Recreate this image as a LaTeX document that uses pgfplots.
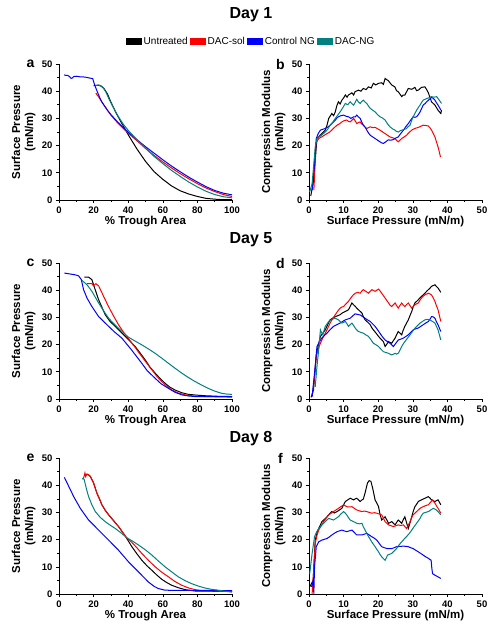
\documentclass[border=0pt]{standalone}
\usepackage{fontspec}
\setmainfont{Liberation Sans}
\usepackage{pgfplots}
\pgfplotsset{compat=1.18}
\definecolor{cblack}{RGB}{0,0,0}
\definecolor{cred}{RGB}{255,0,0}
\definecolor{cblue}{RGB}{0,0,255}
\definecolor{cteal}{RGB}{0,128,128}
\pgfplotsset{
 panel/.style={scale only axis, width=173pt, height=136pt, clip mode=individual,
  axis x line*=bottom, axis y line*=left, tick align=outside,
  ymin=0, ymax=50, ytick={0,10,...,50}, minor tick num=1,
  major tick length=3pt, minor tick length=1.8pt,
  axis line style={line width=0.8pt},
  every tick/.style={black, line width=0.6pt},
  tick label style={font=\fontsize{9.5}{11}\selectfont\bfseries},
  /pgf/number format/assume math mode=true,
  label style={font=\fontsize{11.5}{13}\selectfont\bfseries},
  ylabel style={at={(axis description cs:-0.205,0.5)}, anchor=center, align=center},
  xlabel style={at={(axis description cs:0.5,-0.16)}, anchor=center},
  every axis plot/.append style={line width=1pt}},
 iso/.style={panel, xmin=0, xmax=100, xtick={0,20,...,100},
  ylabel={Surface Pressure\\(mN/m)}, xlabel={\% Trough Area}},
 cm/.style={panel, xmin=0, xmax=50, xtick={0,10,...,50},
  ylabel={Compression Modulus\\(mN/m)}, xlabel={Surface Pressure (mN/m)}},
}
\newcommand{\plabel}[1]{\node[font=\fontsize{14}{16}\selectfont\bfseries] at (axis description cs:-0.165,1.0) {#1};}
\begin{document}
\begin{tikzpicture}
\path[use as bounding box] (0,0) rectangle (497pt,632pt);
\node[font=\fontsize{16}{18}\selectfont\bfseries] at (251pt,617pt) {Day 1};
\node[font=\fontsize{16}{18}\selectfont\bfseries] at (251pt,392pt) {Day 5};
\node[font=\fontsize{16}{18}\selectfont\bfseries] at (251pt,193pt) {Day 8};

% ---------- panel a ----------
\begin{axis}[iso, at={(59pt,432pt)}, anchor=south west,
  legend style={at={(axis description cs:1.11,1.162)}, anchor=center, draw=none, fill=none,
   legend columns=4, font=\fontsize{10}{12}\selectfont,
   /tikz/every even column/.append style={column sep=0pt}},
  legend image code/.code={\fill[#1] (0pt,-3pt) rectangle (15pt,3pt);}]
\addplot[color=cblack] coordinates {(20,42)(22,42.2)(24,42)(26,41)(28,39)(30,36)(33,32)(36,28.5)(40,24)(45,18.8)(50,14.2)(55,10.4)(60,7.6)(65,5.2)(70,3.4)(75,2.2)(80,1.3)(85,0.6)(90,0.3)(95,0.1)(100,0.1)};
\addlegendentry{Untreated}
\addplot[color=cred] coordinates {(21.3,39.3)(23,37.8)(25,35.8)(28,33)(30,31.2)(33,29)(36,27)(40,24.6)(45,21.8)(50,19)(55,16.4)(60,14)(65,11.8)(70,9.7)(75,7.8)(80,6)(85,4.4)(90,3.1)(95,2)(100,1.3)};
\addlegendentry{DAC-sol}
\addplot[color=cblue] coordinates {(3,46)(4,45.8)(5,45.8)(6,45.4)(7,44.7)(7.8,44.9)(8.5,45.4)(10,45.5)(12,45.3)(15,45.2)(18,44.8)(19.5,44.6)(20.5,42.5)(22,40)(23,38.5)(24,37)(25,35.8)(28,33)(30,31.4)(33,29.3)(36,27.3)(40,25)(45,22.2)(50,19.6)(55,17.2)(60,14.8)(65,12.5)(70,10.4)(75,8.4)(80,6.6)(85,4.9)(90,3.5)(95,2.5)(100,1.9)};
\addlegendentry{Control NG}
\addplot[color=cteal] coordinates {(21,42)(23,42.3)(25,41.7)(27,39.8)(29,37)(31,34.5)(34,31)(37,28)(40,25.6)(45,22.2)(50,19)(55,16)(60,13.4)(65,10.9)(70,8.7)(75,6.6)(80,4.8)(85,3.2)(90,2)(95,1.2)(100,0.8)};
\addlegendentry{DAC-NG}
\plabel{a}
\end{axis}

% ---------- panel b ----------
\begin{axis}[cm, at={(309pt,432pt)}, anchor=south west]
\addplot[color=cblack] coordinates {(0.5,1.5)(1.2,6)(1.8,14.6)(2.3,22.6)(3.0,23.5)(3.7,24.4)(4.7,25.7)(5.2,27.5)(5.7,30)(6.6,31.8)(7.1,31)(7.6,32.4)(8.0,34.5)(8.5,36.1)(9.0,35.3)(9.5,36.7)(10,37.5)(10.5,38.6)(11,37.8)(11.4,38.6)(12.4,39.4)(12.9,38.6)(13.3,39.8)(14.3,40.4)(15,40)(15.7,41)(16.5,40.6)(17.2,41.6)(18,41.2)(18.6,42.9)(19.3,42.3)(20.1,42.9)(21,43.1)(21.5,42.5)(22,44.7)(22.5,44.2)(22.9,43.9)(23.9,42.3)(24.8,41.6)(25.3,40.2)(25.8,39.8)(26.8,38)(27.2,38.6)(27.7,38.6)(28.2,39.8)(28.7,41)(29.7,40.7)(30.6,41.4)(31.1,40.2)(31.6,40.4)(32.5,41.4)(33.5,41.6)(34,40.6)(34.5,39.4)(35.4,36.1)(36.4,34.9)(37.3,33)(38.1,31.8)(38.3,33)};
\addplot[color=cred] coordinates {(1.4,3.6)(1.6,8.5)(2,20.8)(2.8,22.6)(3.7,23.2)(4.4,23.8)(5.2,24.4)(5.9,24.9)(6.6,25.7)(7.3,26.6)(8.1,27.5)(8.8,28)(9.5,28.7)(10.2,29.2)(10.9,29.4)(11.4,28.9)(11.9,28.7)(12.4,29.3)(12.9,30)(13.4,29)(13.8,28.1)(14.3,28.5)(14.8,28.7)(15.2,28)(15.7,27.5)(16.2,26.8)(16.7,26.3)(17.2,26.6)(17.7,26.9)(18.4,26.6)(19.1,26.7)(19.8,26.2)(20.5,25.7)(21.2,25.1)(22,24.4)(22.7,23.8)(23.4,23.2)(24.1,22.9)(24.8,22.6)(25.3,22)(25.8,21.4)(26.3,22)(26.8,22.6)(27.5,23.2)(28.2,23.8)(28.9,24.8)(29.7,25.7)(30.1,26)(30.6,26.3)(31.1,26.5)(31.6,26.7)(32.3,27.1)(33,27.5)(33.7,27.4)(34.5,27.2)(35,26.5)(35.4,25.7)(35.9,24.5)(36.4,23.2)(36.8,21.5)(37.3,19.5)(37.7,17.5)(38,15.8)};
\addplot[color=cblue] coordinates {(0.9,3.6)(1.5,12.2)(2.1,22.6)(2.7,24.5)(3.3,25.7)(4,26)(4.7,26.3)(5.4,26.8)(6.1,27.5)(6.9,28.5)(7.6,29.4)(8.1,30.2)(8.5,30.6)(9.2,31)(10,31.2)(10.7,30.8)(11.4,30.6)(12.1,30)(12.9,30.6)(13.4,30.6)(13.8,31.2)(14.3,30.5)(14.8,30)(15.2,28.8)(15.7,27.5)(16.2,26.8)(16.7,25.7)(17.2,24.6)(17.7,23.8)(18.4,23.2)(19.1,22.6)(19.8,22)(20.5,21.4)(21,21)(21.5,20.8)(22.2,21.4)(22.9,22.1)(23.6,22)(24.4,22.2)(25.1,22.8)(25.8,23.2)(26.5,24.4)(27.3,25.7)(28,27)(28.7,28.1)(29.4,29.4)(30.1,30.6)(30.6,30.4)(31.1,30.6)(31.6,31.4)(32.1,32.4)(32.5,33.5)(33,34.9)(33.5,35.4)(34,36.1)(34.7,36.9)(35.4,37.7)(35.9,37.4)(36.4,36.7)(36.8,35.8)(37.3,34.9)(37.7,34)(38.1,33)};
\addplot[color=cteal] coordinates {(0.2,3)(0.9,6)(1.8,19.5)(2.3,22.6)(3.3,23.5)(4.7,25)(5.4,26)(6.1,27.5)(6.8,28.5)(7.6,30)(8.3,31.2)(9,32.4)(9.7,33.8)(10.5,35.5)(11.2,35)(11.9,36.1)(12.4,35.4)(12.9,34.9)(13.4,36)(13.8,37)(14.3,36)(14.8,35.5)(15.2,36.2)(15.7,36.7)(16.2,36)(16.7,35.5)(17.2,34.5)(17.7,33.7)(18.4,33)(19.1,32.4)(19.8,31.4)(20.5,30.6)(21.2,30.2)(22,29.4)(22.7,28)(23.4,26.9)(24.1,26.2)(24.8,25.7)(25.3,25.2)(25.8,25)(26.3,25.4)(26.8,25.7)(27.5,25.9)(28.2,26.3)(28.7,27)(29.2,27.5)(29.6,29)(30.1,30.6)(30.6,31.8)(31.1,33)(31.6,34)(32.1,34.9)(32.5,35.8)(33,36.7)(33.5,37)(34,37.3)(34.7,37.6)(35.4,38)(36.1,37.8)(36.9,38)(37.6,36.8)(38.3,35.5)};
\plabel{b}
\end{axis}

% ---------- panel c ----------
\begin{axis}[iso, at={(59pt,233pt)}, anchor=south west]
\addplot[color=cblack] coordinates {(14.6,44.8)(17.1,44.8)(19,43.9)(20.6,40.8)(22.9,36.5)(26.7,31)(29.5,28.5)(32.5,26.7)(35.5,24.8)(38.3,23)(41,21.3)(44,19.3)(46.8,17)(49.8,14.4)(52.5,11.8)(55.6,9.5)(58.5,7.5)(61.3,5.8)(64,4.4)(67.1,3.3)(71,2.3)(74.8,1.7)(80,1.4)(84.4,1.2)(92,1)(100,0.9)};
\addplot[color=cred] coordinates {(16.2,42.4)(19,42.4)(20,41.6)(21.3,42.4)(22.9,41.6)(24.3,39.8)(25.8,37.7)(27.7,35.2)(29.6,32.8)(32,30)(34.4,27.3)(36.8,25)(39.2,23)(41.6,21)(44,19)(46,17.2)(47.9,15.6)(50.8,13.1)(53.7,10.7)(56.5,8.4)(59.4,6.4)(62.3,4.7)(65.2,3.3)(69,2.2)(72.9,1.5)(78,1.1)(84.4,0.9)(92,0.8)(100,0.7)};
\addplot[color=cblue] coordinates {(3.1,46.3)(6,46)(9,45.7)(11.3,45.3)(12.9,43.9)(14.2,40.2)(16.2,37.1)(19,34)(22.9,30.3)(28.7,26.7)(32,24.7)(36.3,22.4)(42,18)(47.9,13.1)(51,10.4)(55.6,7.6)(59,5.6)(63.3,3.9)(67,2.5)(71,1.5)(75,1.1)(78.7,0.9)(90,0.9)(100,0.9)};
\addplot[color=cteal] coordinates {(13.3,43.6)(16.2,42)(19,39.6)(22.9,35.3)(25.8,32.4)(28.7,29.7)(31.5,27.8)(34.4,26)(37.3,24.3)(40.2,22.7)(44,21.3)(47.9,19.9)(51.7,18.4)(55.6,16.8)(59.4,15)(63.3,13.1)(67.1,11.3)(71,9.5)(74.8,7.9)(78.7,6.4)(82.5,5.1)(86.3,3.9)(90,2.9)(94,2.1)(97,1.8)(100,1.7)};
\plabel{c}
\end{axis}

% ---------- panel d ----------
\begin{axis}[cm, at={(309pt,233pt)}, anchor=south west]
\addplot[color=cblack] coordinates {(0.6,0.6)(1.3,3.3)(2.1,15.6)(2.7,19.8)(3.3,23)(4,24.2)(4.7,25.4)(5.4,27.3)(6.1,29.1)(6.8,29.7)(7.6,30.3)(8.3,30.6)(9,31)(9.7,31.7)(10.5,32.2)(11,32.5)(11.4,32.8)(11.9,34)(12.4,35.3)(12.9,34.6)(13.4,34)(13.8,33.4)(14.3,32.8)(14.8,32.2)(15.3,31.6)(15.7,30.3)(16.2,29.1)(17,28.2)(17.7,27.3)(18.1,26.3)(18.6,25.4)(19.4,24.2)(20.1,23)(20.8,22)(21.5,21.1)(22,19.3)(22.5,20.2)(23,21.1)(23.4,20.8)(23.9,20.5)(24.4,21.5)(24.9,22.4)(25.3,23.6)(25.8,24.8)(26.3,24.2)(26.8,23.6)(27.2,25.2)(27.7,26.7)(28.2,27.9)(28.7,29.1)(29.2,30.7)(29.7,32.2)(30.1,33.8)(30.6,35.3)(31.1,35.9)(31.6,36.5)(32,37.1)(32.5,37.7)(33,38.3)(33.5,38.9)(34,39.6)(34.5,40.2)(35,40.8)(35.4,41.4)(35.9,41.7)(36.4,42)(36.8,41.4)(37.3,40.8)(37.7,40)(38.1,39.2)};
\addplot[color=cred] coordinates {(0.9,0.9)(1.5,7)(2.1,16.2)(2.7,18.5)(3.3,20.5)(4,22.5)(4.7,24.2)(5.4,26)(6.1,27.9)(6.8,29.5)(7.6,31)(8.3,32.3)(9,33.4)(9.5,33.8)(10,34)(10.7,35)(11.4,35.9)(11.9,36.8)(12.4,37.7)(12.9,38.4)(13.4,38.9)(14.1,39.2)(14.8,38.9)(15.2,39.6)(15.7,40.2)(16.4,39.6)(17.2,38.9)(17.7,39.6)(18.2,40.2)(18.6,39.9)(19.1,39.6)(19.6,40)(20.1,40.4)(20.5,39.8)(21,38.9)(21.5,38)(22,37.1)(22.5,36.2)(23,35.3)(23.4,34.5)(23.9,34)(24.4,34.7)(24.9,35.3)(25.3,34.4)(25.8,33.4)(26.3,34.4)(26.8,35.3)(27.2,34.6)(27.7,34)(28.2,34.7)(28.7,35.3)(29.2,34.3)(29.7,33.4)(30.1,34)(30.6,34.6)(31.1,35)(31.6,35.3)(32,36.2)(32.5,37.1)(33,37.8)(33.5,38.3)(34,38.6)(34.5,38.9)(35,38.6)(35.4,38.3)(35.9,37.2)(36.4,35.9)(36.8,34.4)(37.3,32.8)(37.7,30.6)(38.1,28.5)};
\addplot[color=cblue] coordinates {(0.9,0.9)(1.6,9.5)(2.3,19.3)(3,21)(3.7,22.4)(4.4,23.3)(5.2,24.2)(6.1,25.5)(7.1,26.7)(8,27.3)(9,27.9)(9.7,28.5)(10.5,29.1)(11.2,29.4)(11.9,29.7)(12.6,30.5)(13.3,31.3)(14,31.1)(14.8,30.9)(15.5,30.3)(16.2,29.7)(16.9,29.1)(17.7,28.5)(18.4,27.6)(19.1,26.7)(19.8,25.5)(20.5,24.2)(21.2,22.9)(22,21.7)(22.7,21.1)(23.4,20.5)(23.9,19.9)(24.4,19.3)(25.1,20.5)(25.8,21.7)(26.5,22)(27.3,22.4)(28,23)(28.7,23.6)(29.4,24.5)(30.1,25.4)(30.8,25.8)(31.6,26.1)(32.3,26.7)(33,27.3)(33.7,27.9)(34.5,28.5)(35,29.4)(35.4,30.3)(35.9,30.2)(36.4,29.7)(36.8,28.5)(37.3,27.3)(37.7,26)(38.1,24.8)};
\addplot[color=cteal] coordinates {(1.8,4.5)(2.3,11.9)(2.8,18.1)(3.3,25.4)(3.6,24.5)(4,23.6)(4.3,25)(4.7,26.7)(5.2,27.6)(5.7,28.5)(6.1,29)(6.6,29.1)(7.1,29.5)(7.6,29.7)(8,29.4)(8.5,29.1)(9,28.5)(9.5,27.9)(10,28.2)(10.5,28.5)(11,27.6)(11.4,26.7)(11.9,27.3)(12.4,27.9)(12.9,27)(13.4,26)(13.8,25.4)(14.3,24.8)(15,24.5)(15.7,24.2)(16.4,23.6)(17.2,23)(17.9,21.8)(18.6,20.5)(19.4,19.9)(20.1,19.3)(20.8,18.3)(21.5,17.4)(22.2,17.1)(23,16.8)(23.4,16.5)(23.9,16.2)(24.4,16.5)(24.9,16.8)(25.3,16.5)(25.8,16.8)(26.3,18)(26.8,19.3)(27.2,20.2)(27.7,21.1)(28.5,22.4)(29.2,23.6)(29.9,24.8)(30.6,26)(31.4,27)(32.1,27.9)(32.8,28.5)(33.5,29.1)(34.2,29.3)(34.9,29.1)(35.7,28.5)(36.4,27.9)(36.8,26.8)(37.3,25.4)(37.7,23.5)(38.1,21.7)};
\plabel{d}
\end{axis}

% ---------- panel e ----------
\begin{axis}[iso, at={(59pt,38pt)}, anchor=south west]
\addplot[color=cblack] coordinates {(14.8,43.8)(16.2,44)(17.3,43.7)(18.1,43.2)(20,40.8)(21.9,37.1)(23.5,34.8)(24.8,32.8)(26.7,30.8)(28.7,29.1)(31.5,27)(34.4,24.8)(37,22.5)(39.2,20.4)(42.1,17.4)(45,14.8)(47.9,12.4)(50.8,10.4)(53.7,8.7)(56.5,7)(59.4,5.4)(62.3,4.2)(65.2,3.2)(69,2.3)(72.9,1.6)(78.7,1.1)(90,1)(100,1)};
\addplot[color=cred] coordinates {(14.2,42.6)(15,44.5)(15.4,43.2)(16.2,44.1)(17.3,43.7)(18.1,43.2)(20,40.8)(21.9,37.1)(23.5,34.8)(24.8,32.8)(26.7,30.8)(28.7,29.1)(31.5,27)(34.4,24.8)(37,22.5)(39.2,20.6)(42.1,19)(45,17)(47.9,14.9)(51.7,12.4)(55.6,10)(59.4,8)(63.3,6.3)(67,4.6)(71,3.2)(75,2.2)(78.7,1.6)(82.5,1.2)(86.3,1.1)(93,1)(100,0.9)};
\addplot[color=cblue] coordinates {(3.1,42.9)(5.6,39.6)(8.5,35.8)(12.3,31.5)(17.1,27.2)(22.9,23.5)(28.7,19.8)(34.4,16.1)(40.2,11.8)(46,8.1)(51.7,4.4)(55,2.8)(57.5,2)(61.3,1.4)(70,1.3)(80,1.3)(90,1.3)(100,1.2)};
\addplot[color=cteal] coordinates {(13.3,42.2)(14,42.6)(14.6,42)(15.8,38.8)(17.1,35.8)(19,32.8)(21,30.3)(23.8,28.2)(26.7,26.6)(29.6,25.3)(32.5,24.1)(35.8,22.5)(39.2,20.7)(42.6,19.4)(46,18)(49.8,16.3)(53.7,14.3)(57.5,12.1)(61.3,10)(65.2,8.1)(69,6.3)(72.9,4.9)(76.7,3.8)(80.6,2.9)(84.4,2.2)(88.2,1.7)(92.1,1.4)(96,1)(100,0.7)};
\plabel{e}
\end{axis}

% ---------- panel f ----------
\begin{axis}[cm, at={(309pt,38pt)}, anchor=south west]
\addplot[color=cblack] coordinates {(0.2,2.6)(1.2,5)(1.8,19.8)(2.3,22.4)(2.8,24.1)(3.3,25.4)(3.7,26.6)(4.5,27.5)(5.2,28.4)(5.9,29.4)(6.6,30.3)(7.3,29.8)(8.1,30.3)(8.8,30.9)(9.5,31.5)(10,32.8)(10.5,34)(11.2,34.6)(11.9,35.2)(12.4,34.9)(12.9,34.6)(13.4,35)(13.8,35.2)(14.3,34.6)(14.8,34)(15.2,34.5)(15.7,34.9)(16.2,37.1)(16.9,40.8)(17.4,41.7)(17.9,41.4)(18.4,38.9)(18.8,36.5)(19.1,34.6)(19.6,33.4)(20.1,32.1)(20.5,29.5)(21,27.2)(21.5,27.8)(22,28.4)(22.5,27.2)(23,26)(23.5,26.3)(23.9,26.6)(24.4,26)(24.9,25.4)(25.3,26.3)(25.8,27.2)(26.3,26.6)(26.8,26)(27.2,27.2)(27.7,28.4)(28.2,26.2)(28.7,24.1)(29.2,26.2)(29.7,28.4)(30.1,30.3)(30.6,32.1)(31.1,33)(31.6,34)(32,34.3)(32.5,34.6)(33,34.9)(33.5,35.2)(34,35.5)(34.5,35.8)(35,35.2)(35.4,34.6)(35.9,34.3)(36.4,34)(36.8,34.3)(37.3,34.6)(37.7,33.7)(38.1,32.8)};
\addplot[color=cred] coordinates {(0.9,0.1)(1.3,7.5)(1.8,18.6)(2.3,21.5)(2.8,23.5)(3.5,25.1)(4.2,26.6)(5,27.9)(5.7,29.1)(6.4,29.7)(7.1,30.3)(7.8,30.9)(8.5,31.5)(9.2,32.1)(10,32.8)(10.5,32.4)(10.9,32.1)(11.6,32)(12.4,32.1)(13.1,31.5)(13.8,30.9)(14.5,30.6)(15.3,30.3)(16,30.5)(16.7,30.3)(17.4,30)(18.2,29.7)(18.9,29.9)(19.6,29.7)(20.3,29.4)(21,29.1)(21.5,27.8)(22,26.6)(22.5,26)(23,25.4)(23.7,25.1)(24.4,24.8)(25.1,25.1)(25.8,25.4)(26.5,25.2)(27.3,25.4)(27.7,24.8)(28.2,24.1)(28.7,25.3)(29.2,26.6)(29.6,27.9)(30.1,29.1)(30.6,29.7)(31.1,30.3)(31.6,30.9)(32.1,31.5)(32.5,31.8)(33,32.1)(33.7,32.5)(34.5,32.8)(35.1,33.7)(35.7,34.6)(36,34)(36.4,33.4)(36.8,32.5)(37.3,31.5)(37.7,30.6)(38.1,29.7)};
\addplot[color=cblue] coordinates {(0.7,2.6)(1.2,5)(1.4,0.1)(1.6,9.9)(2.1,17.4)(2.8,19.2)(3.7,19.8)(4.4,20.1)(5.2,20.4)(5.9,21)(6.6,21.7)(7.3,22.3)(8.1,22.9)(8.8,23.2)(9.5,23.5)(10.2,23.2)(10.9,22.9)(11.6,23.2)(12.4,23.5)(13.1,22.6)(13.8,21.7)(14.5,21.7)(15.3,21.7)(16,22)(16.7,22.3)(17.4,21.7)(18.1,21.1)(18.9,20.5)(19.6,19.8)(20.3,18.6)(21,17.4)(21.8,17)(22.6,16.7)(23.3,16.7)(23.9,16.7)(24.6,17)(25.3,17.4)(26.3,17.5)(27.3,17.6)(28,17.5)(28.7,17.4)(29.4,17)(30.1,16.7)(30.8,16.1)(31.6,15.5)(32.3,14.9)(33,14.3)(33.7,13.7)(34.5,13.1)(35.3,12.4)(35.5,9.5)(35.7,7.5)(36.4,6.9)(37.3,6.3)(38.1,5.7)};
\addplot[color=cteal] coordinates {(0.2,7.5)(0.9,14.9)(1.6,21.1)(2.2,22.8)(2.8,24.1)(3.5,25)(4.2,26)(5,27)(5.7,27.8)(6.4,27.5)(7.1,27.2)(7.8,27.8)(8.5,28.4)(9.2,29.4)(10,30.3)(10.5,29.7)(10.9,29.1)(11.4,28.1)(11.9,27.2)(12.4,26.9)(12.9,26.6)(13.4,26.3)(13.8,26)(14.5,25.8)(15.3,26)(15.7,24.7)(16.2,23.5)(16.7,22.3)(17.2,21.1)(17.7,20.1)(18.1,19.2)(18.6,18.3)(19.1,17.4)(19.6,16.4)(20.1,15.5)(20.5,14.6)(21,13.7)(21.5,13)(22,12.4)(22.4,13.4)(22.7,14.3)(23.3,14.6)(23.9,14.9)(24.6,15.8)(25.3,16.7)(26,18)(26.8,19.2)(27.5,20.2)(28.2,21.1)(29,22.3)(29.7,23.5)(30.4,24.8)(31.1,26)(31.6,26.9)(32.1,27.8)(32.5,28.8)(33,29.7)(33.7,30)(34.5,30.3)(35.2,30.9)(35.9,31.5)(36.4,31.2)(36.8,30.9)(37.5,30)(38.1,29.1)};
\plabel{f}
\end{axis}
\end{tikzpicture}
\end{document}
